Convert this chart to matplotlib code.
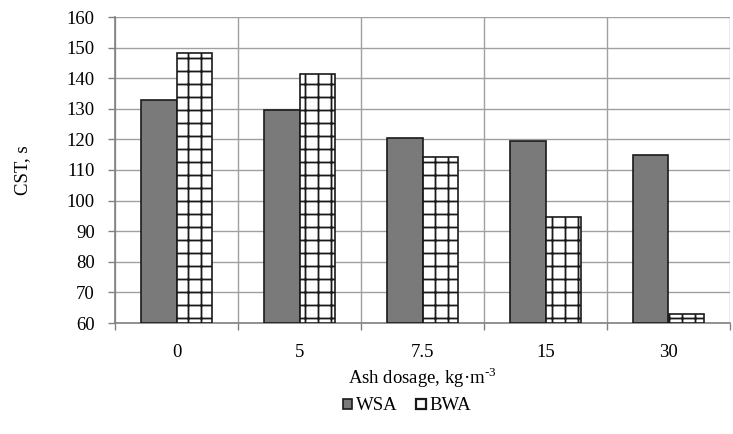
import numpy as np
import matplotlib.pyplot as plt
from matplotlib.patches import Patch

# données
dosages = ["0", "5", "7.5", "15", "30"]
cst_wsa = [133.0, 129.5, 120.3, 119.6, 115.0]
cst_bwa = [148.3, 141.3, 114.3, 94.7, 62.9]

# dpi réduit pour obtenir un quadrillage (hatch) plus fin ; tailles compensées
DPI = 78
S = 100 / DPI

plt.rcParams["font.family"] = ["Liberation Serif", "DejaVu Serif"]
plt.rcParams["mathtext.fontset"] = "custom"
plt.rcParams["mathtext.rm"] = "Liberation Serif"
plt.rcParams["hatch.linewidth"] = 1.3 * S
plt.rcParams["hatch.color"] = "#1a1a1a"

fig = plt.figure(figsize=(733 / DPI, 434 / DPI), dpi=DPI)
ax = fig.add_axes([115 / 733, 1 - 323 / 434, 615 / 733, 306 / 434])

x = np.arange(len(dosages))
w = 0.29
ax.bar(x - w / 2, np.array(cst_wsa) - 60, w, bottom=60, color="#7a7a7a",
       edgecolor="#1a1a1a", linewidth=1.2 * S, zorder=3)
ax.bar(x + w / 2, np.array(cst_bwa) - 60, w, bottom=60, color="white",
       edgecolor="#1a1a1a", linewidth=1.2 * S, hatch="+", zorder=3)

ax.set_xlim(-0.5, len(dosages) - 0.5)
ax.set_ylim(60, 160)
ax.set_yticks(np.arange(60, 161, 10))
ax.set_xticks(x)
ax.set_xticklabels(dosages)
ax.set_xticks(np.arange(-0.5, len(dosages)), minor=True)
fs = 13.5 * S
ax.tick_params(axis="x", which="major", length=0, labelsize=fs, pad=15 * S)
ax.tick_params(axis="x", which="minor", length=5 * S, width=1.0 * S,
               direction="out", color="#808080")
ax.tick_params(axis="y", length=5 * S, width=1.0 * S, direction="out",
               labelsize=fs, color="#808080", pad=9.5 * S)

ax.grid(axis="y", color="#a0a0a0", linewidth=1.0 * S, zorder=0)
ax.grid(axis="x", which="minor", color="#a0a0a0", linewidth=1.0 * S, zorder=0)
for s in ["top", "right"]:
    ax.spines[s].set_visible(False)
for s in ["left", "bottom"]:
    ax.spines[s].set_color("#808080")
    ax.spines[s].set_linewidth(1.2 * S)

ax.set_xlabel("Ash dosage, kg·m$^{\\text{-3}}$", fontsize=fs, labelpad=3 * S)
ax.set_ylabel("CST, s", fontsize=fs, labelpad=26 * S)

handles = [
    Patch(facecolor="#7a7a7a", edgecolor="#1a1a1a", linewidth=1.2 * S, label="WSA"),
    Patch(facecolor="white", edgecolor="#1a1a1a", linewidth=1.6 * S, label="BWA"),
]
fig.legend(handles=handles, loc="center", bbox_to_anchor=(407 / 733, 1 - 406 / 434),
           ncol=2, frameon=False, fontsize=fs, handlelength=0.5, handleheight=0.5,
           handletextpad=0.2, columnspacing=1.0)

fig.savefig("out.png", dpi=DPI)
